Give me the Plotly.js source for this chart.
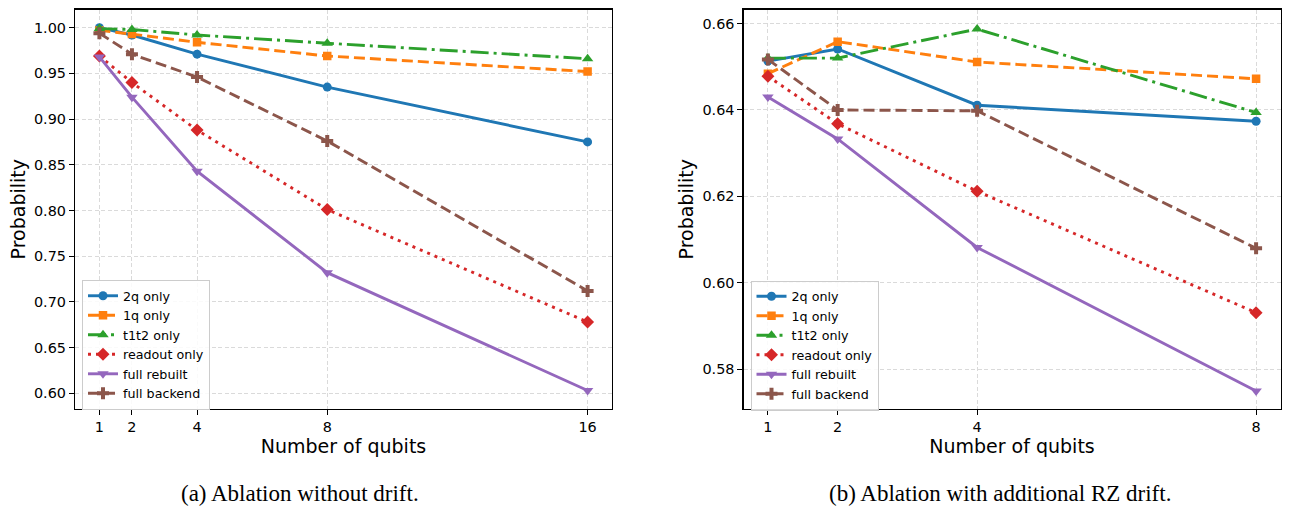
<!DOCTYPE html>
<html>
<head>
<meta charset="utf-8">
<script src="https://cdn.plot.ly/plotly-3.0.1.min.js"></script>
<style>
  html, body { margin: 0; padding: 0; background: #ffffff; }
  #chart { width: 1290px; height: 516px; }
</style>
</head>
<body>
<div id="chart"></div>
<script>
// Ablation study: success probability vs. number of qubits
const seriesNames = ["2q only", "1q only", "t1t2 only", "readout only", "full rebuilt", "full backend"];

// (a) without drift
const qubitsA = [1, 2, 4, 8, 16];
const twoQA      = [1.000, 0.992, 0.971, 0.935, 0.875];
const oneQA      = [0.997, 0.993, 0.984, 0.969, 0.952];
const t1t2A      = [0.999, 0.998, 0.992, 0.983, 0.966];
const readoutA   = [0.969, 0.940, 0.888, 0.801, 0.678];
const rebuiltA   = [0.968, 0.924, 0.843, 0.732, 0.603];
const backendA   = [0.994, 0.971, 0.946, 0.876, 0.712];

// (b) with additional RZ drift
const qubitsB = [1, 2, 4, 8];
const twoQB      = [0.6513, 0.6541, 0.6411, 0.6374];
const oneQB      = [0.6484, 0.6558, 0.6511, 0.6472];
const t1t2B      = [0.6520, 0.6520, 0.6587, 0.6394];
const readoutB   = [0.6478, 0.6368, 0.6212, 0.5931];
const rebuiltB   = [0.6430, 0.6333, 0.6082, 0.5750];
const backendB   = [0.6517, 0.6400, 0.6398, 0.6080];

const tickLabelsA = ["1", "2", "4", "8", "16"];
const tickLabelsB = ["1", "2", "4", "8"];
const yTicksA = [0.60, 0.65, 0.70, 0.75, 0.80, 0.85, 0.90, 0.95, 1.00];
const yTicksB = [0.58, 0.60, 0.62, 0.64, 0.66];

// line / marker styling per series
const styles = [
  { color: "#1f77b4", dash: "solid",                  symbol: "circle",        size: 9 },
  { color: "#ff7f0e", dash: "11px,5px",               symbol: "square",        size: 8.5 },
  { color: "#2ca02c", dash: "18px,5px,3px,5px",       symbol: "triangle-up",   size: 10 },
  { color: "#d62728", dash: "3px,5px",                symbol: "diamond",       size: 10 },
  { color: "#9467bd", dash: "solid",                  symbol: "triangle-down", size: 10 },
  { color: "#8c564b", dash: "11px,5px",               symbol: "cross",         size: 10 }
];

function makeTraces(x, ys, xa, ya, legendId) {
  return ys.map((y, i) => ({
    type: "scatter",
    mode: "lines+markers",
    x: x,
    y: y,
    name: seriesNames[i],
    xaxis: xa,
    yaxis: ya,
    legend: legendId,
    line: { color: styles[i].color, width: 2.9, dash: styles[i].dash },
    marker: { color: styles[i].color, symbol: styles[i].symbol, size: styles[i].size, line: { width: 0 } },
    hoverinfo: "x+y+name"
  }));
}

const traces = [].concat(
  makeTraces(qubitsA, [twoQA, oneQA, t1t2A, readoutA, rebuiltA, backendA], "x", "y", "legend"),
  makeTraces(qubitsB, [twoQB, oneQB, t1t2B, readoutB, rebuiltB, backendB], "x2", "y2", "legend2")
);

const W = 1290, H = 516;
const tickFont = { family: "DejaVu Sans", size: 14.4, color: "#000000" };
const titleFont = { family: "DejaVu Sans", size: 19, color: "#000000" };
const legendFont = { family: "DejaVu Sans", size: 12.7, color: "#000000" };

function xAxis(domain, range, vals, labels) {
  return {
    domain: domain, range: range,
    tickmode: "array", tickvals: vals, ticktext: labels,
    ticks: "outside", ticklen: 5, tickwidth: 1, tickcolor: "#000000",
    showline: true, mirror: true, linecolor: "#000000", linewidth: 1.1,
    showgrid: true, gridcolor: "rgba(170,170,170,0.55)", griddash: "4px,2.5px", gridwidth: 0.8,
    zeroline: false, tickfont: tickFont,
    title: { text: "Number of qubits", font: titleFont, standoff: 2 },
    automargin: false
  };
}
function yAxis(range, vals, anchor) {
  return {
    domain: [(H - 409) / H, (H - 9.5) / H], range: range, anchor: anchor,
    tickmode: "array", tickvals: vals, tickformat: ".2f",
    ticks: "outside", ticklen: 5, tickwidth: 1, tickcolor: "#000000",
    showline: true, mirror: true, linecolor: "#000000", linewidth: 1.1,
    showgrid: true, gridcolor: "rgba(170,170,170,0.55)", griddash: "4px,2.5px", gridwidth: 0.8,
    zeroline: false, tickfont: tickFont,
    title: { text: "Probability", font: titleFont, standoff: 3 },
    automargin: false
  };
}

const legendBase = {
  font: legendFont,
  bgcolor: "rgba(255,255,255,0.85)",
  bordercolor: "#cccccc",
  borderwidth: 1,
  xanchor: "left", yanchor: "top",
  tracegroupgap: 0,
  itemwidth: 30
};

const layout = {
  width: W, height: H,
  margin: { l: 0, r: 0, t: 0, b: 0 },
  paper_bgcolor: "#ffffff",
  plot_bgcolor: "#ffffff",
  showlegend: true,
  xaxis: Object.assign(xAxis([75 / W, 612 / W], [0.25, 16.75], qubitsA, tickLabelsA), { anchor: "y" }),
  yaxis: yAxis([0.5828, 1.0199], yTicksA, "x"),
  xaxis2: Object.assign(xAxis([743.5 / W, 1280.5 / W], [0.65, 8.35], qubitsB, tickLabelsB), { anchor: "y2" }),
  yaxis2: yAxis([0.57082, 0.66324], yTicksB, "x2"),
  legend: Object.assign({}, legendBase, { x: 82 / W, y: (H - 280) / H }),
  legend2: Object.assign({}, legendBase, { x: 750.5 / W, y: (H - 280.5) / H }),
  annotations: [
    { text: "(a) Ablation without drift.", xref: "paper", yref: "paper",
      x: 300 / W, y: (H - 493) / H, xanchor: "center", yanchor: "middle", showarrow: false,
      font: { family: "Liberation Serif", size: 23, color: "#000000" } },
    { text: "(b) Ablation with additional RZ drift.", xref: "paper", yref: "paper",
      x: 1000 / W, y: (H - 493) / H, xanchor: "center", yanchor: "middle", showarrow: false,
      font: { family: "Liberation Serif", size: 23, color: "#000000" } }
  ]
};

Plotly.newPlot("chart", traces, layout, { staticPlot: true, displayModeBar: false });
</script>
</body>
</html>
